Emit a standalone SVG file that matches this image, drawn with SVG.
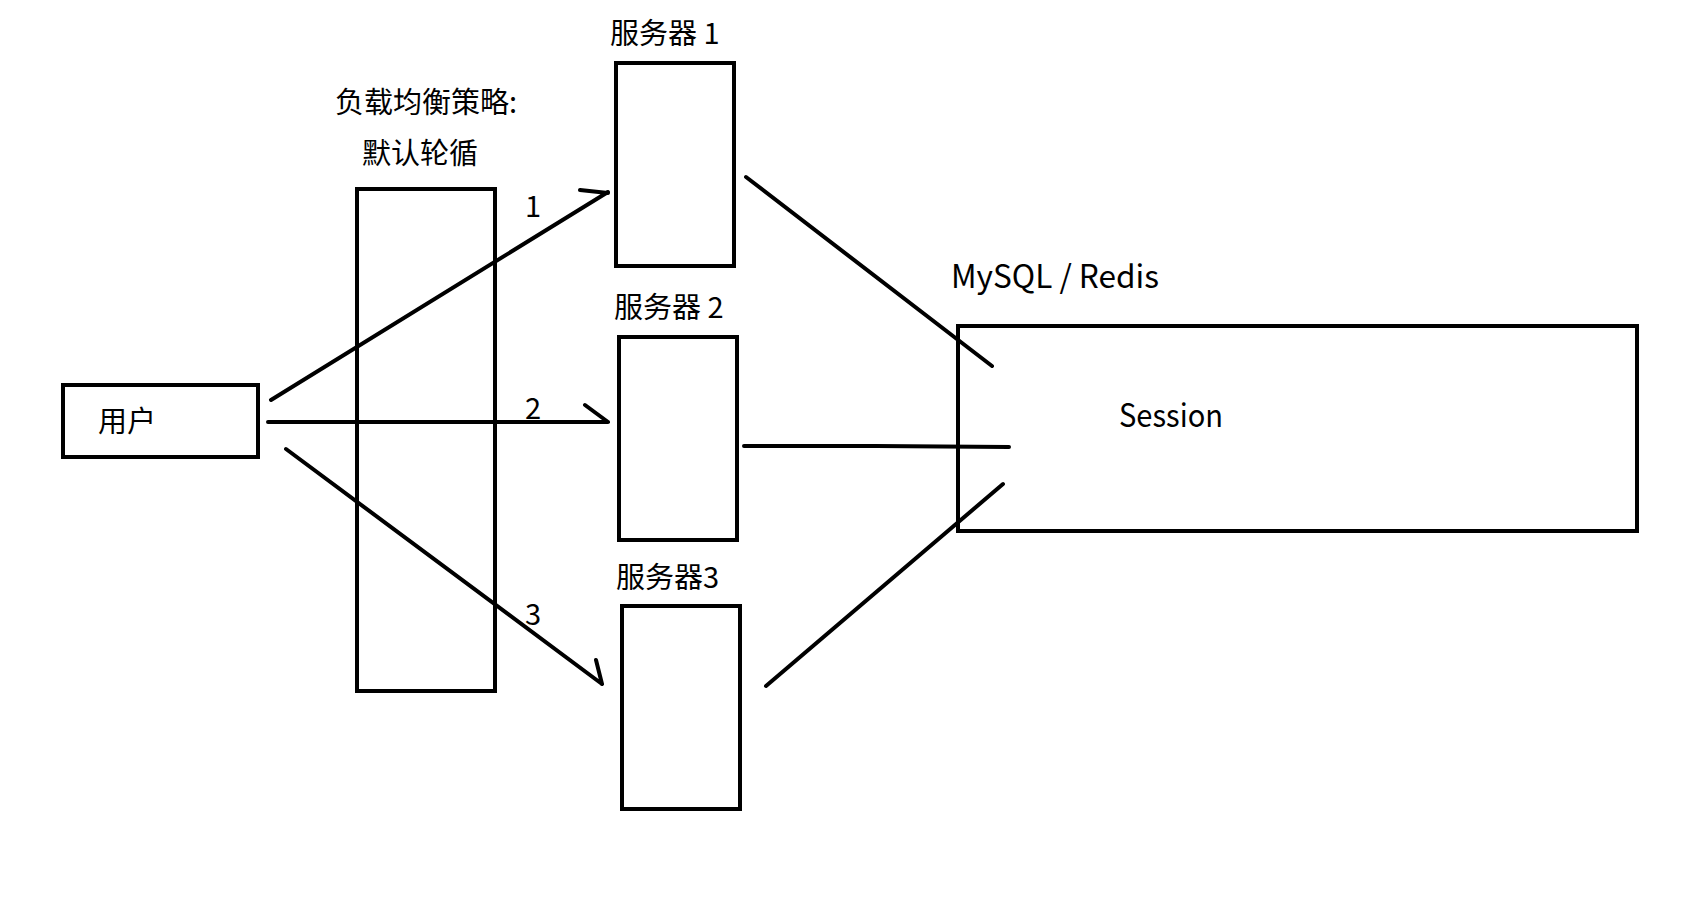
<svg xmlns="http://www.w3.org/2000/svg" width="1706" height="913" viewBox="0 0 1706 913">
<style>
.box{fill:none;stroke:#000;stroke-width:4}
.ln{fill:none;stroke:#000;stroke-width:4;stroke-linecap:round;stroke-linejoin:round}
.t{font-family:"Noto Sans CJK SC","Liberation Sans",sans-serif;font-size:29px;fill:#000}
.l{font-family:"Noto Sans CJK SC","Liberation Sans",sans-serif;font-size:32px;fill:#000}
</style>
<rect width="1706" height="913" fill="#fff"/>
<g id="user">
<rect class="box" x="63" y="385" width="195" height="72"/>
<text class="t" x="98" y="432">用户</text>
</g>
<g id="lb">
<rect class="box" x="357" y="189" width="138" height="502"/>
<text class="t" x="335" y="113">负载均衡策略:</text>
<text class="t" x="362" y="164">默认轮循</text>
</g>
<g id="server1">
<rect class="box" x="616" y="63" width="118" height="203"/>
<text class="t" x="610" y="44">服务器 1</text>
</g>
<g id="server2">
<rect class="box" x="619" y="337" width="118" height="203"/>
<text class="t" x="614" y="318">服务器 2</text>
</g>
<g id="server3">
<rect class="box" x="622" y="606" width="118" height="203"/>
<text class="t" x="616" y="588">服务器3</text>
</g>
<g id="db">
<rect class="box" x="958" y="326" width="679" height="205"/>
<text class="l" x="951" y="288" textLength="208" lengthAdjust="spacingAndGlyphs">MySQL / Redis</text>
<text class="l" x="1119" y="427" textLength="104" lengthAdjust="spacingAndGlyphs">Session</text>
</g>
<g id="connectors">
<path class="ln" d="M271 400 L608 192 M580 190 L608 193"/>
<path class="ln" d="M268 422 L608 422 M585 405 L608 422"/>
<path class="ln" d="M286 449 L602 684 M596 660 L602 684"/>
<path class="ln" d="M746 177 L992 366"/>
<path class="ln" d="M744 446 L876 446 L1009 447"/>
<path class="ln" d="M766 686 L1003 484"/>
<text class="t" x="525" y="217">1</text>
<text class="t" x="525" y="419">2</text>
<text class="t" x="525" y="625">3</text>
</g>
</svg>
